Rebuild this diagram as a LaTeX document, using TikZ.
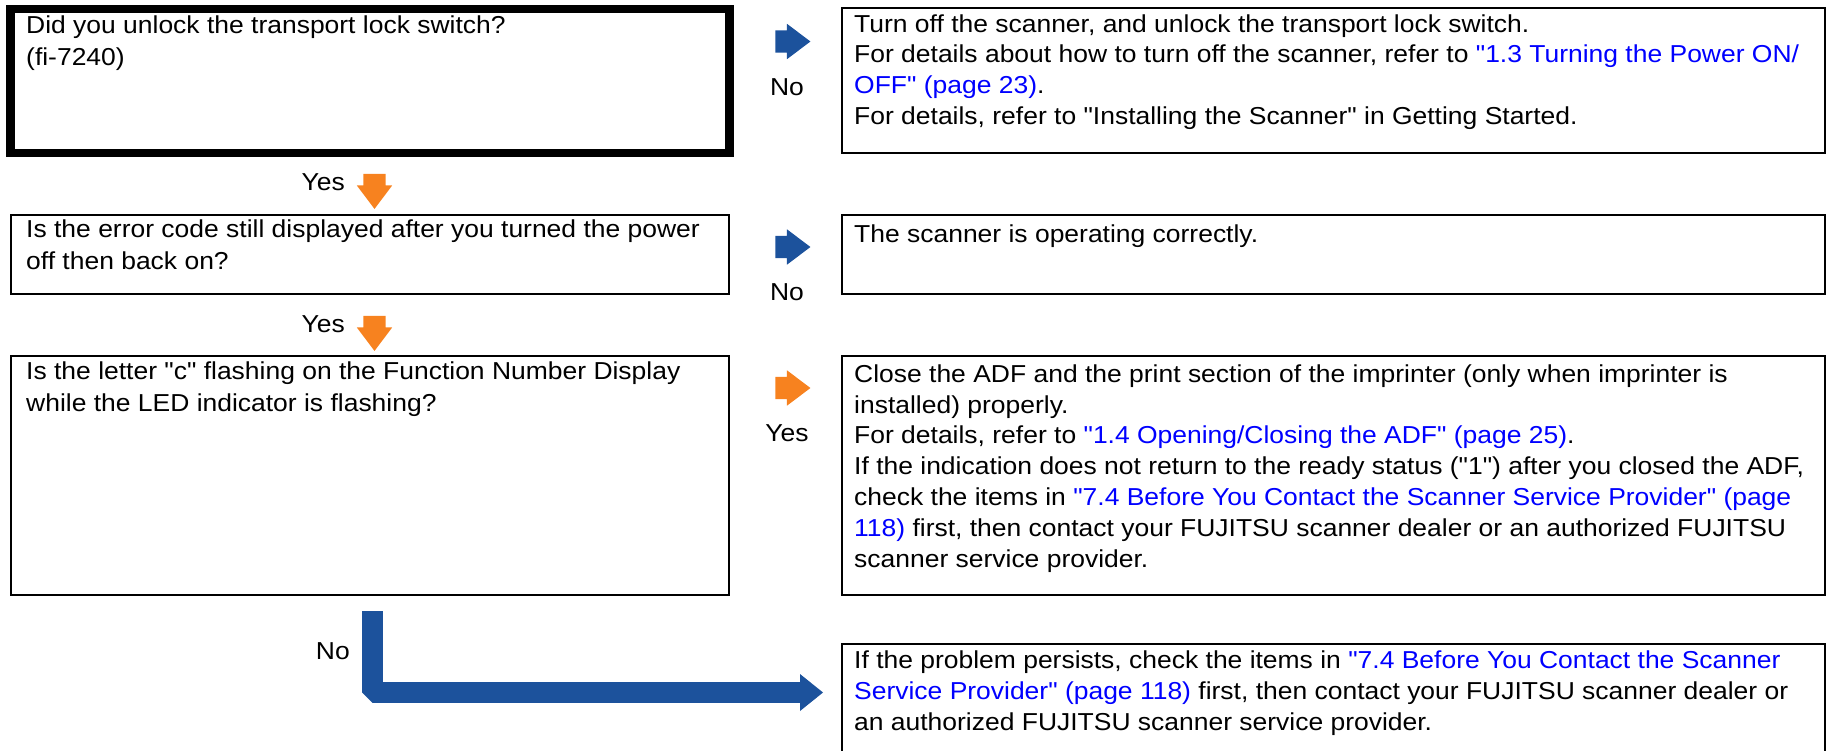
\documentclass[tikz,border=0pt]{standalone}
\usepackage{fontspec}
\setmainfont{Liberation Sans}[Ligatures=TeXOff, FakeStretch=1.08]
\usepackage{xcolor}
\usepackage{tikz}
\usetikzlibrary{positioning, arrows.meta, calc, shapes.arrows}
\definecolor{fjblue}{RGB}{28,82,156}
\definecolor{fjorange}{RGB}{247,130,31}
\definecolor{lnk}{RGB}{0,0,255}
\newcommand{\lk}[1]{\textcolor{lnk}{#1}}
\tikzset{
  qbox/.style={draw=black, line width=2pt, inner sep=0pt, outer sep=0pt, anchor=north west},
  % north west sits 0.7 baselineskip above the first baseline
  txt/.style={align=left, inner sep=0pt, anchor=north west, execute at begin node=\strut},
  txtl/.style={txt, font=\fontsize{24.5}{32.3}\selectfont},
  lab/.style={inner sep=0pt},
  barr/.style={single arrow, draw=none, inner xsep=0pt, inner ysep=11pt,
    minimum height=35pt, minimum width=35pt,
    single arrow head extend=6.5pt, single arrow tip angle=74},
  larr/.style={draw=fjblue, line width=21pt, line join=bevel,
    -{Triangle[length=23pt,width=37pt,line width=0pt]}}
}

\begin{document}
\begin{tikzpicture}[x=1pt, y=-1pt, font=\fontsize{24.5}{30.8}\selectfont]
\useasboundingbox (0,0) rectangle (1827,750);
% ---- question boxes (left) ----
\node[qbox, line width=8.5pt, minimum width=719pt, minimum height=144pt] (q1) at (10.5,9) {};
\node[qbox, minimum width=718.5pt, minimum height=79.5pt] (q2) at (10.5,214.5) {};
\node[qbox, minimum width=718.5pt, minimum height=239pt] (q3) at (10.5,356) {};
% ---- answer boxes (right) ----
\node[qbox, minimum width=983pt, minimum height=145pt] (a1) at (842,8) {};
\node[qbox, minimum width=983pt, minimum height=79.5pt] (a2) at (842,214.5) {};
\node[qbox, minimum width=983pt, minimum height=239pt] (a3) at (842,356) {};
\node[qbox, minimum width=983pt, minimum height=111pt] (a4) at (842,644) {};
% ---- texts (y = first baseline - 0.7 baselineskip) ----
\node[txtl] (tq1) at (26,15.1) {Did you unlock the transport lock switch?\\(fi-7240)};
\node[txtl] (tq2) at (26,219.1) {Is the error code still displayed after you turned the power\\off then back on?};
\node[txtl] (tq3) at (26,361.4) {Is the letter "c" flashing on the Function Number Display\\while the LED indicator is flashing?};
\node[txt] (ta1) at (854,14.2) {Turn off the scanner, and unlock the transport lock switch.\\
  For details about how to turn off the scanner, refer to \lk{"1.3 Turning the Power ON/}\\
  \lk{OFF" (page 23)}.\\
  For details, refer to "Installing the Scanner" in Getting Started.};
\node[txt] (ta2) at (854,220.4) {The scanner is operating correctly.};
\node[txt] (ta3) at (854,364.4) {Close the ADF and the print section of the imprinter (only when imprinter is\\
  installed) properly.\\
  For details, refer to \lk{"1.4 Opening/Closing the ADF" (page 25)}.\\
  If the indication does not return to the ready status ("1") after you closed the ADF,\\
  check the items in \lk{"7.4 Before You Contact the Scanner Service Provider" (page}\\
  \lk{118)} first, then contact your FUJITSU scanner dealer or an authorized FUJITSU\\
  scanner service provider.};
\node[txt] (ta4) at (854,650.9) {If the problem persists, check the items in \lk{"7.4 Before You Contact the Scanner}\\
  \lk{Service Provider" (page 118)} first, then contact your FUJITSU scanner dealer or\\
  an authorized FUJITSU scanner service provider.};
% ---- side arrows with labels ----
\foreach \n/\y/\c/\t in {1/41.5/fjblue/No, 2/247/fjblue/No, 3/388/fjorange/Yes}{
  \node[barr, fill=\c] (s\n) at (785.5,\y) {};
  \node[lab] (ls\n) at (787,\y+45.5) {\t};
}
% ---- down arrows with labels ----
\foreach \n/\y in {1/184, 2/326}{
  \node[barr, fill=fjorange, rotate=-90] (d\n) at (374.5,\y) {};
  \node[lab, anchor=east] (ld\n) at (345,\y-2) {Yes};
}
% ---- bent arrow to last box ----
\coordinate (lstart) at (372.5,611);
\coordinate (ltip) at ($(a4.north west)+(-19,48.5)$);
\draw[larr] (lstart) |- (ltip);
\node[lab, anchor=east] (lno) at (350,651) {No};
\end{tikzpicture}
\end{document}
